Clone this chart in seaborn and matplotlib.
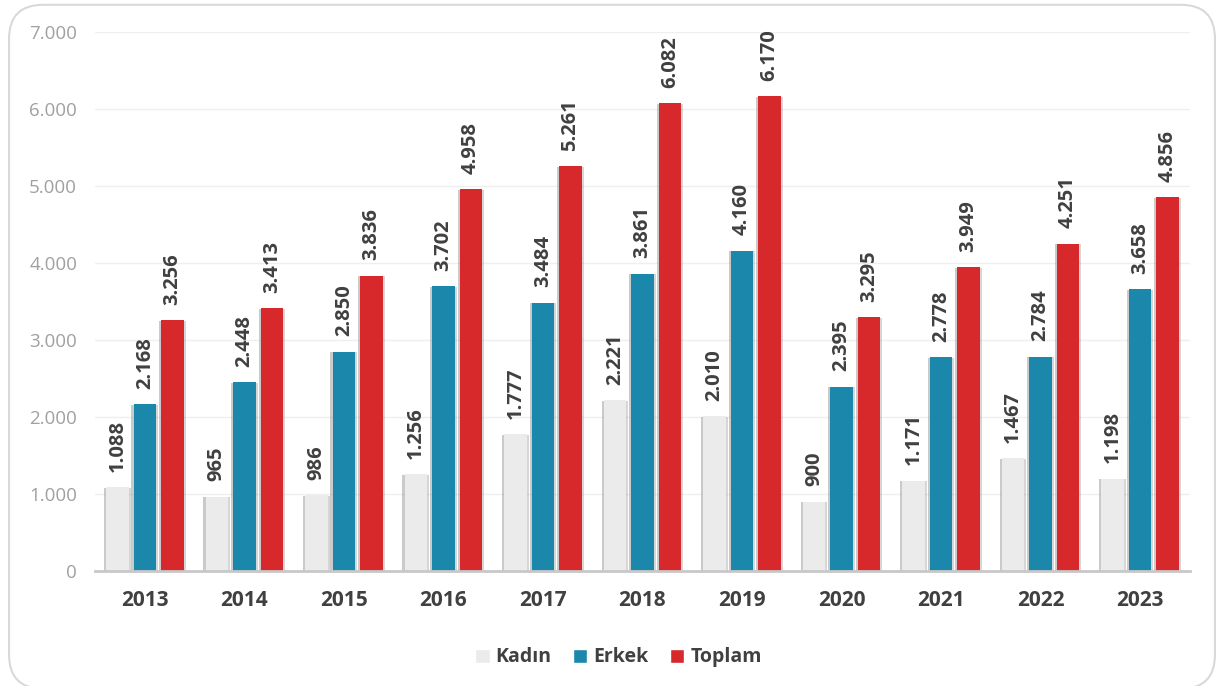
import pandas as pd
import matplotlib
matplotlib.use("Agg")
import matplotlib.pyplot as plt
import seaborn as sns
from matplotlib.patches import FancyBboxPatch
import matplotlib.patheffects as pe

years = ["2013", "2014", "2015", "2016", "2017", "2018", "2019", "2020", "2021", "2022", "2023"]
kadin = [1088, 965, 986, 1256, 1777, 2221, 2010, 900, 1171, 1467, 1198]
erkek = [2168, 2448, 2850, 3702, 3484, 3861, 4160, 2395, 2778, 2784, 3658]
toplam = [3256, 3413, 3836, 4958, 5261, 6082, 6170, 3295, 3949, 4251, 4856]
series = ["Kadın", "Erkek", "Toplam"]
palette = {"Kadın": "#EBEBEB", "Erkek": "#1B88AB", "Toplam": "#D7282C"}

df = pd.DataFrame({"yil": years * 3,
                   "seri": ["Kadın"] * 11 + ["Erkek"] * 11 + ["Toplam"] * 11,
                   "deger": kadin + erkek + toplam})

sns.set_theme(style="white")
plt.rcParams["font.family"] = ["Open Sans", "DejaVu Sans"]

fig = plt.figure(figsize=(12.19, 6.86), dpi=100)
ax = fig.add_axes([0.078, 0.168, 0.898, 0.785])

# rounded frame around the chart (bottom edge runs just off the image)
fig.patches.append(FancyBboxPatch((0.0074, -0.004), 0.9893, 0.997, boxstyle="round,pad=0,rounding_size=0.028",
                                  transform=fig.transFigure, fill=False, edgecolor="#D9D9D9", linewidth=1.5,
                                  mutation_aspect=12.19 / 6.86))

sns.barplot(data=df, x="yil", y="deger", hue="seri", hue_order=series, palette=palette,
            width=0.83, saturation=1, ax=ax, legend=True, errorbar=None)

shadow = [pe.SimplePatchShadow(offset=(-1.5, -0.5), shadow_rgbFace="#8a8a8a", alpha=0.45),
          pe.SimplePatchShadow(offset=(1.5, -0.5), shadow_rgbFace="#8a8a8a", alpha=0.35),
          pe.Normal()]
for cont, s in zip(ax.containers, series):
    for bar in cont:
        w = bar.get_width()
        new_w = w * 0.82
        bar.set_x(bar.get_x() + (w - new_w) / 2)
        bar.set_width(new_w)
        bar.set_edgecolor("none")
        bar.set_path_effects(shadow)
    labels = [f"{v:,.0f}".replace(",", ".") for v in cont.datavalues]
    ax.bar_label(cont, labels=labels, rotation=90, padding=11, fontsize=14.5, fontweight="bold",
                 color="#404040")

ax.set_ylim(0, 7000)
ax.set_yticks(range(0, 7001, 1000))
ax.set_yticklabels(["0"] + [f"{v // 1000}.000" for v in range(1000, 7001, 1000)], fontsize=13.5, color="#A0A0A0")
ax.set_xlim(-0.5, 10.5)
ax.grid(axis="y", color="#EFEFEF", linewidth=1)
ax.set_axisbelow(True)
for side in ["top", "right", "left"]:
    ax.spines[side].set_visible(False)
ax.spines["bottom"].set_color("#C8C8C8")
ax.spines["bottom"].set_linewidth(2)
ax.tick_params(axis="x", length=0, pad=14)
ax.tick_params(axis="y", length=0, pad=13)
for t in ax.get_xticklabels():
    t.set_fontsize(15)
    t.set_fontweight("bold")
    t.set_color("#404040")
ax.set_xlabel("")
ax.set_ylabel("")

ax.legend(loc="upper center", bbox_to_anchor=(0.478, -0.11), ncol=3, frameon=False,
          handlelength=0.75, handleheight=0.75, handletextpad=0.3, columnspacing=1.1,
          prop={"weight": "bold", "size": 14})
for t in ax.get_legend().get_texts():
    t.set_color("#404040")

fig.savefig("out.png", dpi=100)
